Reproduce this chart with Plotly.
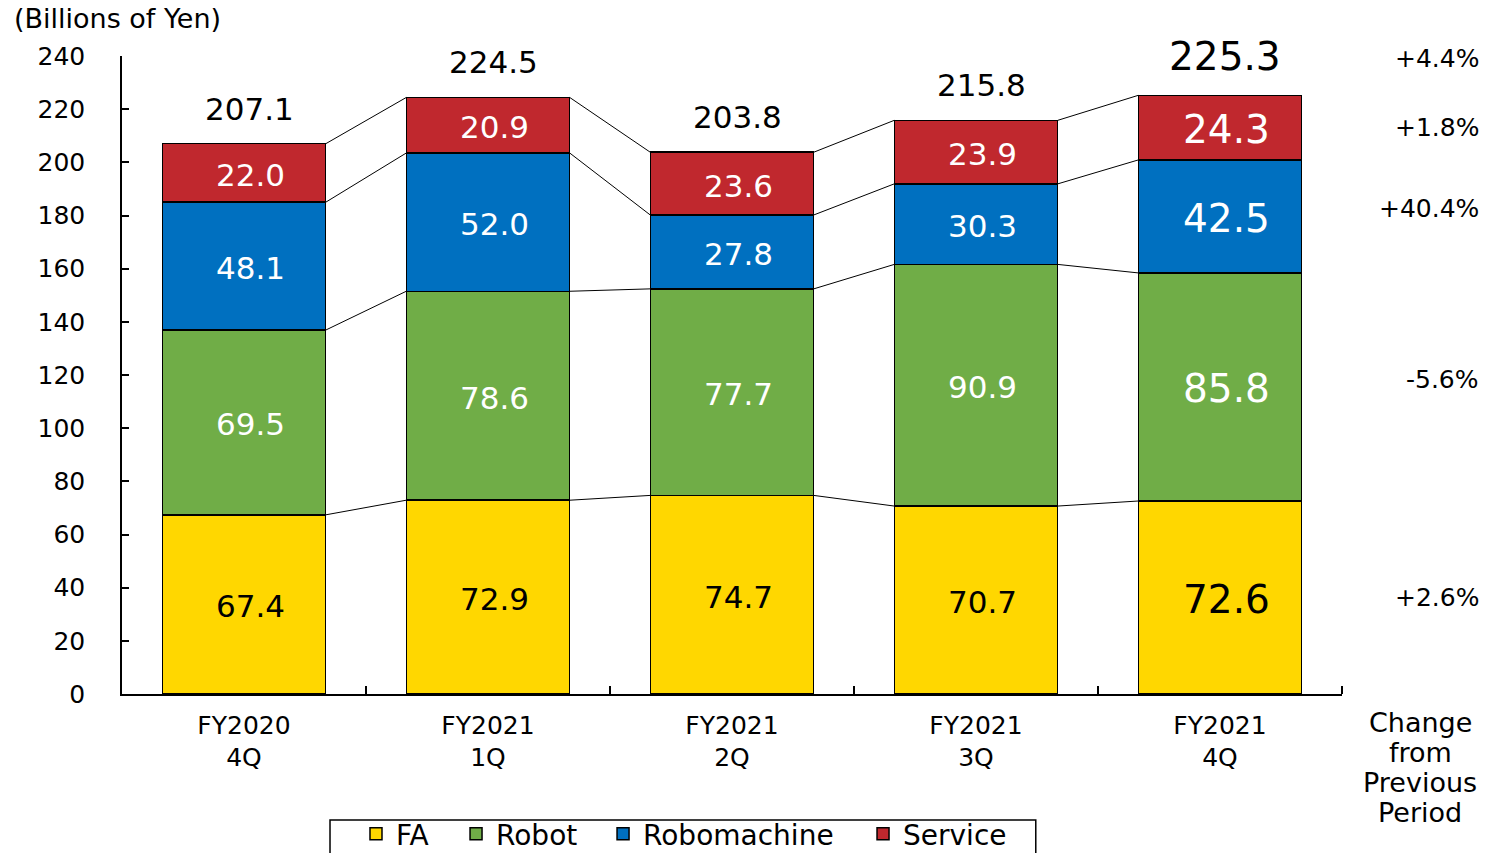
import plotly.graph_objects as go

categories = ["FY2020<br>4Q", "FY2021<br>1Q", "FY2021<br>2Q", "FY2021<br>3Q", "FY2021<br>4Q"]
fa = [67.4, 72.9, 74.7, 70.7, 72.6]
robot = [69.5, 78.6, 77.7, 90.9, 85.8]
robomachine = [48.1, 52.0, 27.8, 30.3, 42.5]
service = [22.0, 20.9, 23.6, 23.9, 24.3]
totals = [207.1, 224.5, 203.8, 215.8, 225.3]
change_labels = ["+2.6%", "-5.6%", "+40.4%", "+1.8%", "+4.4%"]  # FA, Robot, Robomachine, Service, Total
change_title = ["Change", "from", "Previous", "Period"]

colors = {"FA": "#FFD700", "Robot": "#70AD47", "Robomachine": "#0070C0", "Service": "#C0282E"}
FONT = "DejaVu Sans, sans-serif"
BAR_W = 0.67

x = list(range(len(categories)))
fig = go.Figure()

series = [("FA", fa, "black"), ("Robot", robot, "white"),
          ("Robomachine", robomachine, "white"), ("Service", service, "white")]
legend_ids = ["legend", "legend2", "legend3", "legend4"]
legend_x = [0.1918, 0.2738, 0.3943, 0.6074]

cum = [0.0] * len(x)
levels = []
for (name, vals, tcol), lid in zip(series, legend_ids):
    fig.add_trace(go.Bar(
        x=x, y=vals, name=name, width=BAR_W, legend=lid,
        marker=dict(color=colors[name], line=dict(color="black", width=1.5)),
        hoverinfo="skip",
    ))
    for i, v in enumerate(vals):
        fig.add_annotation(x=x[i], y=cum[i] + v / 2, text=f"{v:.1f}", showarrow=False,
                           xshift=6, yshift=-2,
                           font=dict(size=31 if i < 4 else 39, color=tcol, family=FONT))
    cum = [c + v for c, v in zip(cum, vals)]
    levels.append(list(cum))

# connector lines between stacked levels
for lev in levels:
    lx, ly = [], []
    for i in range(len(x) - 1):
        lx += [x[i] + BAR_W / 2, x[i + 1] - BAR_W / 2, None]
        ly += [lev[i], lev[i + 1], None]
    fig.add_trace(go.Scatter(x=lx, y=ly, mode="lines", line=dict(color="black", width=1),
                             showlegend=False, hoverinfo="skip"))

# totals
for i, t in enumerate(totals):
    fig.add_annotation(x=x[i], y=levels[-1][i], text=f"{t:.1f}", showarrow=False,
                       yanchor="bottom", yshift=15 if i < 4 else 14, xshift=5,
                       font=dict(size=31 if i < 4 else 39, color="black", family=FONT))

# change from previous period
change_y = [fa[-1] / 2, levels[0][-1] + robot[-1] / 2, levels[1][-1] + robomachine[-1] / 2,
            levels[2][-1] + service[-1] / 2, levels[3][-1] + 14]
change_shift = [0, 7, 8, 0, 0]
for lab, yv, ys in zip(change_labels, change_y, change_shift):
    fig.add_annotation(x=1.114, xref="paper", y=yv, yref="y", yshift=ys, text=lab,
                       showarrow=False, xanchor="right",
                       font=dict(size=25, color="black", family=FONT))
for k, word in enumerate(change_title):
    fig.add_annotation(x=1.064, xref="paper", y=0, yref="paper", xanchor="center",
                       yanchor="middle", yshift=-28 - 30.3 * k, text=word, showarrow=False,
                       font=dict(size=27, color="black", family=FONT))
fig.add_annotation(x=-0.09, xref="paper", y=1.058, yref="paper", xanchor="left", yanchor="middle",
                   text="(Billions of Yen)", showarrow=False,
                   font=dict(size=27, color="black", family=FONT))

# legend frame
fig.add_shape(type="rect", xref="paper", yref="paper", x0=0.1705, x1=0.749, y0=-0.1975, y1=-0.32,
              line=dict(color="black", width=1.5), fillcolor="white", layer="below")

legend_style = dict(orientation="h", xanchor="left", y=-0.1803, yanchor="top",
                    borderwidth=0, bgcolor="rgba(0,0,0,0)",
                    font=dict(size=28, family=FONT), itemwidth=30)
legends = {lid: dict(legend_style, x=lx) for lid, lx in zip(legend_ids, legend_x)}

fig.update_layout(
    width=1491, height=853, barmode="stack", plot_bgcolor="white", paper_bgcolor="white",
    margin=dict(l=122, r=149, t=56, b=159, autoexpand=False),
    font=dict(family=FONT, color="black", size=24),
    showlegend=True,
    **legends,
)
fig.update_xaxes(range=[-0.5, len(x) - 0.5], tickvals=x, ticktext=categories, ticks="",
                 showline=True, linecolor="black", linewidth=1.5, showgrid=False, zeroline=False,
                 tickfont=dict(size=25, family=FONT), ticklabelstandoff=8,
                 minor=dict(tickvals=[i + 0.5 for i in x], ticks="inside", ticklen=8,
                            tickcolor="black", tickwidth=1.5))
fig.update_yaxes(range=[0, 240], dtick=20, tick0=0, ticks="inside", ticklen=7, tickwidth=1.5,
                 tickcolor="black", showline=True, linecolor="black", linewidth=1.5,
                 showgrid=False, zeroline=False, tickfont=dict(size=25, family=FONT),
                 ticklabelstandoff=30)

fig.write_html("out.html", config={"displayModeBar": False},
               post_script="document.body.style.margin='0';")
